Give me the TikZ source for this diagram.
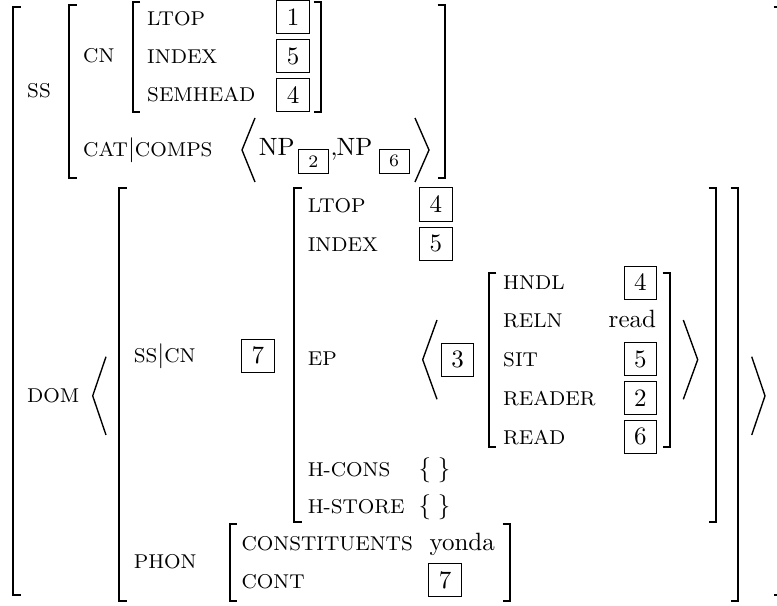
\documentclass[tikz,border=0pt]{standalone}
\newcommand\avmLb[3]{\draw[brk] (#1+7.5,#2) -- (#1,#2) -- (#1,#3) -- (#1+7.5,#3);}
\newcommand\avmRb[3]{\draw[brk] (#1-7.5,#2) -- (#1,#2) -- (#1,#3) -- (#1-7.5,#3);}
\newcommand\avmAng[4]{\draw[ang] (#2,#3) -- (#1,{(#3+#4)/2}) -- (#2,#4);}
\newcommand\avmBar{{\normalsize$|$}}
\begin{document}
\begin{tikzpicture}[x=0.4pt,y=-0.4pt,
  lab/.style={anchor=base west,inner sep=0pt,font=\footnotesize},
  val/.style={anchor=base west,inner sep=0pt},
  tag/.style={draw,line width=0.4pt,minimum width=13pt,minimum height=13.2pt,inner sep=0pt,anchor=center},
  stag/.style={draw,line width=0.4pt,minimum width=12pt,minimum height=9.6pt,inner sep=0pt,anchor=center,font=\scriptsize},
  brk/.style={line width=0.8pt},
  ang/.style={line width=0.55pt,line join=miter}]
\useasboundingbox (0,0) rectangle (777,605);
% outer brackets
\avmLb{13.3}{7.3}{595}
\avmRb{781}{7.3}{595}
% SS
\node[lab] (ss) at (26.7,98) {SS};
\avmLb{69}{5}{178}
\avmRb{445}{5}{178}
\node[lab] (cn) at (82.7,63) {CN};
\avmLb{132.7}{2}{111.7}
\avmRb{321}{2}{111.7}
\node[lab] (ltop1) at (146.7,25.5) {LTOP};
\node[lab] (index1) at (146.7,64) {INDEX};
\node[lab] (semhead) at (146.7,102) {SEMHEAD};
\node[tag] (t1) at (293,17.5) {1};
\node[tag] (t5a) at (293,56.2) {5};
\node[tag] (t4a) at (293,95.2) {4};
\node[lab] (catcomps) at (82.7,156.7) {CAT\avmBar COMPS};
\avmAng{242}{255}{118}{182}
\node[val] (np1) at (258.3,155.7) {NP};
\node[stag] (t2a) at (313.3,161.3) {2};
\node[val] (comma) at (330,155.7) {,};
\node[val] (np2) at (336,155.7) {NP};
\node[stag] (t6a) at (394.2,161.3) {6};
\avmAng{429}{415}{118}{182}
% DOM
\node[lab] (dom) at (26.7,402) {DOM};
\avmAng{92.7}{106}{356.7}{435}
\avmLb{119.3}{188.3}{600.7}
\avmRb{738}{188.3}{600.7}
\avmAng{765}{751.7}{356.7}{435}
\node[lab] (sscn) at (133.3,362.7) {SS\avmBar CN};
\node[tag] (t7a) at (257.8,355.5) {7};
\avmLb{294}{188.3}{521.7}
\avmRb{716}{188.3}{521.7}
\node[lab] (ltop2) at (307.3,212.3) {LTOP};
\node[tag] (t4b) at (435.8,204.5) {4};
\node[lab] (index2) at (307.3,251.3) {INDEX};
\node[tag] (t5b) at (435.8,243.6) {5};
\node[lab] (ep) at (307.3,365) {EP};
\avmAng{422.7}{437}{320}{399.3}
\node[tag] (t3) at (457.5,359.5) {3};
\avmLb{488.8}{272.7}{446.7}
\avmRb{670}{272.7}{446.7}
\node[lab] (hndl) at (502.7,289) {HNDL};
\node[tag] (t4c) at (640.3,282.5) {4};
\node[lab] (reln) at (502.7,327) {RELN};
\node[anchor=base east,inner sep=0pt] (read) at (656.5,327) {read};
\node[lab] (sit) at (502.7,366) {SIT};
\node[tag] (t5c) at (640.3,359) {5};
\node[lab] (reader) at (502.7,405) {READER};
\node[tag] (t2b) at (640.3,397.8) {2};
\node[lab] (readf) at (502.7,444) {READ};
\node[tag] (t6b) at (640.3,436.7) {6};
\avmAng{697.7}{683.3}{320}{399.3}
\node[lab] (hcons) at (307.3,476) {H-CONS};
\node[val] (hconsv) at (418,476) {$\{\;\}$};
\node[lab] (hstore) at (307.3,513.5) {H-STORE};
\node[val] (hstorev) at (418,513.5) {$\{\;\}$};
% PHON
\node[lab] (phon) at (133.3,568.5) {PHON};
\avmLb{229.5}{524}{600.7}
\avmRb{510}{524}{600.7}
\node[lab] (constit) at (241,550) {CONSTITUENTS};
\node[val] (yonda) at (429,550) {yonda};
\node[lab] (cont) at (241,588) {CONT};
\node[tag] (t7b) at (445.2,580) {7};
\end{tikzpicture}
\end{document}
